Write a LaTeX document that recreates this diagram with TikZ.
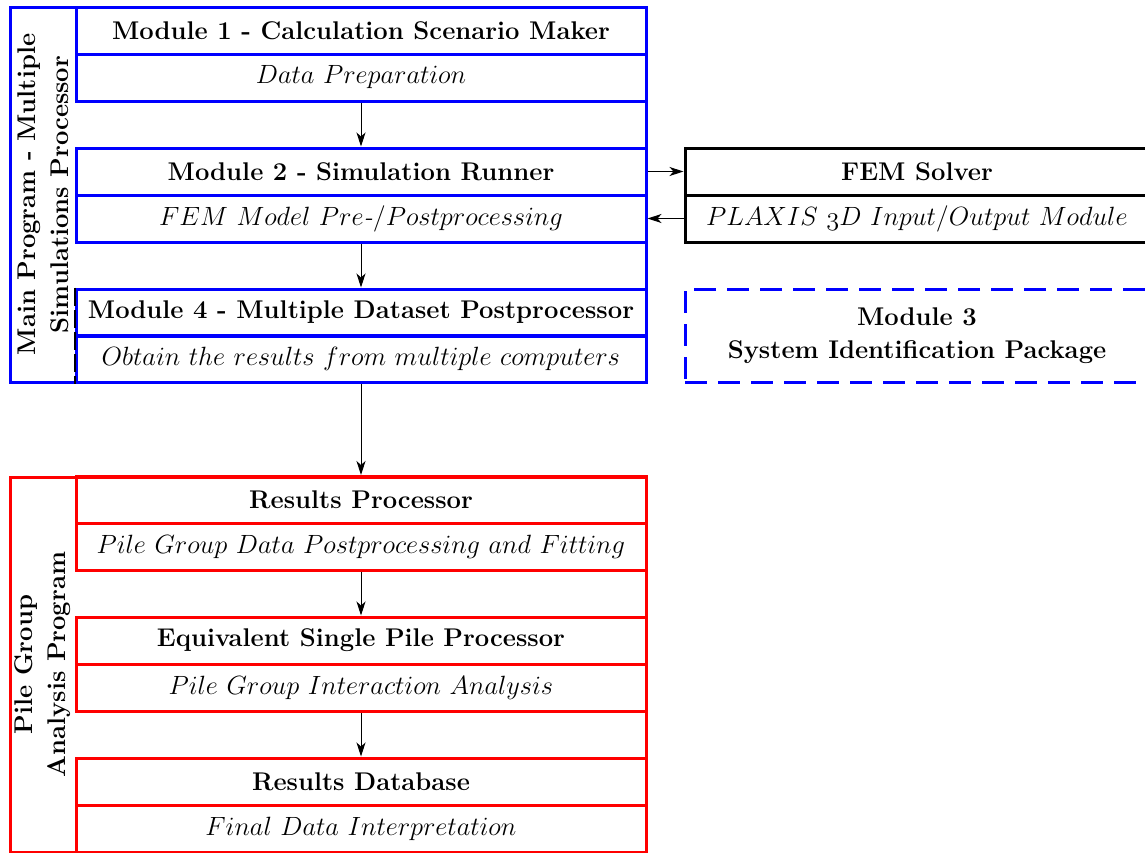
\documentclass[tikz,border=0pt]{standalone}
\usetikzlibrary{arrows.meta}
% scalable math italic
\DeclareFontShape{OML}{cmm}{m}{it}{<->cmmi12}{}
\newcommand{\hy}{\mbox{\itshape -}}
\begin{document}
\begin{tikzpicture}[x=0.5pt,y=-0.5pt,
  row/.style={draw, line width=1.5pt, minimum width=285pt, minimum height=23.5pt, inner sep=0pt},
  head/.style={row, font=\fontsize{12.8}{16}\selectfont\bfseries},
  sub/.style={row, font=\fontsize{13.2}{16}\selectfont},
  side/.style={rotate=90, align=center, font=\fontsize{12.8}{16.5}\selectfont\bfseries},
  conn/.style={-{Stealth[length=7pt,width=4.5pt,inset=2pt]}, line width=0.5pt, black},
]
\useasboundingbox (0,0) rectangle (1145,852);
\clip (0,0) rectangle (1145,852);

% Main program frame
\draw[blue, line width=1.5pt] (10,7) rectangle (646,382);
\node[side] (mainlbl) at (43,194.5) {Main Program - Multiple\\Simulations Processor};

\node[head, draw=blue] (m1h) at (361,30.5) {Module 1 - Calculation Scenario Maker};
\node[sub,  draw=blue] (m1s) at (361,77.5) {$Data\ Preparation$};
\node[head, draw=blue] (m2h) at (361,171.5) {Module 2 - Simulation Runner};
\node[sub,  draw=blue] (m2s) at (361,218.5) {$FEM\ Model\ Pre\hy/Postprocessing$};
\node[head, draw=blue] (m4h) at (361,312.5) {Module 4 - Multiple Dataset Postprocessor};
\node[sub,  draw=blue] (m4s) at (361,359) {$Obtain\ the\ results\ from\ multiple\ computers$};
\draw[black, line width=1pt, dash pattern=on 9pt off 2pt] (m4h.north west) -- (m4s.south west);

% External solver
\node[head, minimum width=232pt] (femh) at (917,171.5) {FEM Solver};
\node[sub,  minimum width=232pt] (fems) at (917,218.5) {$PLAXIS\ \mathnormal{3}D\ Input/Output\ Module$};

% Module 3
\node[draw=blue, line width=1.5pt, dash pattern=on 11pt off 5.5pt,
      minimum width=232pt, minimum height=46.5pt, align=center,
      font=\fontsize{12.8}{16.5}\selectfont\bfseries]
  (m3) at (917,335.5) {Module 3\\System Identification Package};

% Pile group program frame
\draw[red, line width=1.5pt] (10,477) rectangle (646,852);
\node[side] (pilelbl) at (43,664.5) {Pile Group\\Analysis Program};

\node[head, draw=red] (rph) at (361,500) {Results Processor};
\node[sub,  draw=red] (rps) at (361,546.5) {$Pile\ Group\ Data\ Postprocessing\ and\ Fitting$};
\node[head, draw=red] (esh) at (361,640.5) {Equivalent Single Pile Processor};
\node[sub,  draw=red] (ess) at (361,687.5) {$Pile\ Group\ Interaction\ Analysis$};
\node[head, draw=red] (rdh) at (361,781.5) {Results Database};
\node[sub,  draw=red] (rds) at (361,828.5) {$Final\ Data\ Interpretation$};

% Connectors
\draw[conn] (m1s.south) -- (m2h.north);
\draw[conn] (m2s.south) -- (m4h.north);
\draw[conn] (m4s.south) -- (rph.north);
\draw[conn] (rps.south) -- (esh.north);
\draw[conn] (ess.south) -- (rdh.north);
\draw[conn] (m2h.east) -- (femh.west);
\draw[conn] (fems.west) -- (m2s.east);
\end{tikzpicture}
\end{document}
